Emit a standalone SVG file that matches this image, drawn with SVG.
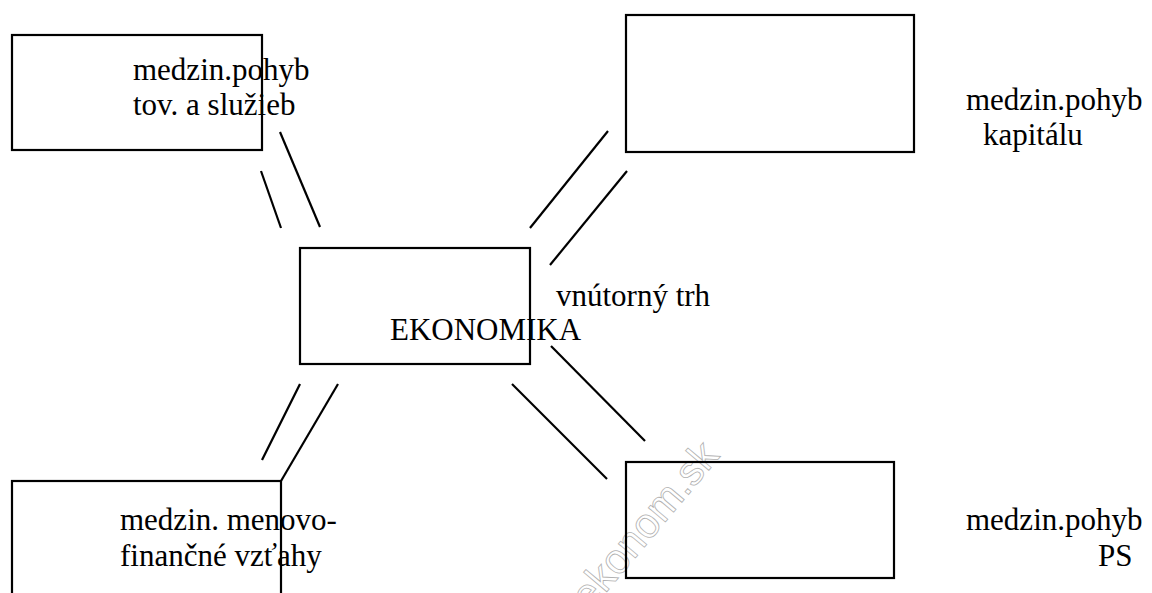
<svg xmlns="http://www.w3.org/2000/svg" width="1152" height="593" viewBox="0 0 1152 593">
<style>
.box{fill:none;stroke:#000;stroke-width:2.2}
.ln{stroke:#000;stroke-width:2.2;fill:none}
.t{font-family:'Liberation Serif','Times New Roman',Times,serif;font-size:31px;fill:#000}
.wm{font-family:'Liberation Sans',Arial,sans-serif;font-size:42px;fill:none;stroke:#b0b0b0;stroke-width:0.8}
</style>
<rect width="1152" height="593" fill="#fff"/>
<text class="wm" transform="translate(590,612) rotate(-50)">ekonom.sk</text>
<g id="connectors">
<line class="ln" x1="261" y1="171" x2="281" y2="228"/>
<line class="ln" x1="280" y1="132" x2="320" y2="227"/>
<line class="ln" x1="608" y1="131" x2="530" y2="228"/>
<line class="ln" x1="627" y1="171" x2="550" y2="265"/>
<line class="ln" x1="300" y1="384" x2="262" y2="460"/>
<line class="ln" x1="338" y1="384" x2="281" y2="481"/>
<line class="ln" x1="551" y1="346" x2="645" y2="441"/>
<line class="ln" x1="512" y1="384" x2="607" y2="479"/>
</g>
<g id="node-tovary">
<rect class="box" x="12" y="35" width="250" height="115"/>
<text class="t" x="133" y="80">medzin.pohyb</text>
<text class="t" x="133" y="115">tov. a služieb</text>
</g>
<g id="node-kapital">
<rect class="box" x="626" y="15" width="288" height="137"/>
<text class="t" x="966" y="110">medzin.pohyb</text>
<text class="t" x="983" y="145">kapitálu</text>
</g>
<g id="node-ekonomika">
<rect class="box" x="300" y="248" width="230" height="116"/>
<text class="t" x="556" y="306">vnútorný trh</text>
<text class="t" x="390" y="340">EKONOMIKA</text>
</g>
<g id="node-menovo">
<rect class="box" x="12" y="481" width="269" height="130"/>
<text class="t" x="120" y="530">medzin. menovo-</text>
<text class="t" x="120" y="566">finančné vzťahy</text>
</g>
<g id="node-ps">
<rect class="box" x="626" y="462" width="268" height="116"/>
<text class="t" x="966" y="530">medzin.pohyb</text>
<text class="t" x="1098" y="566">PS</text>
</g>
</svg>
